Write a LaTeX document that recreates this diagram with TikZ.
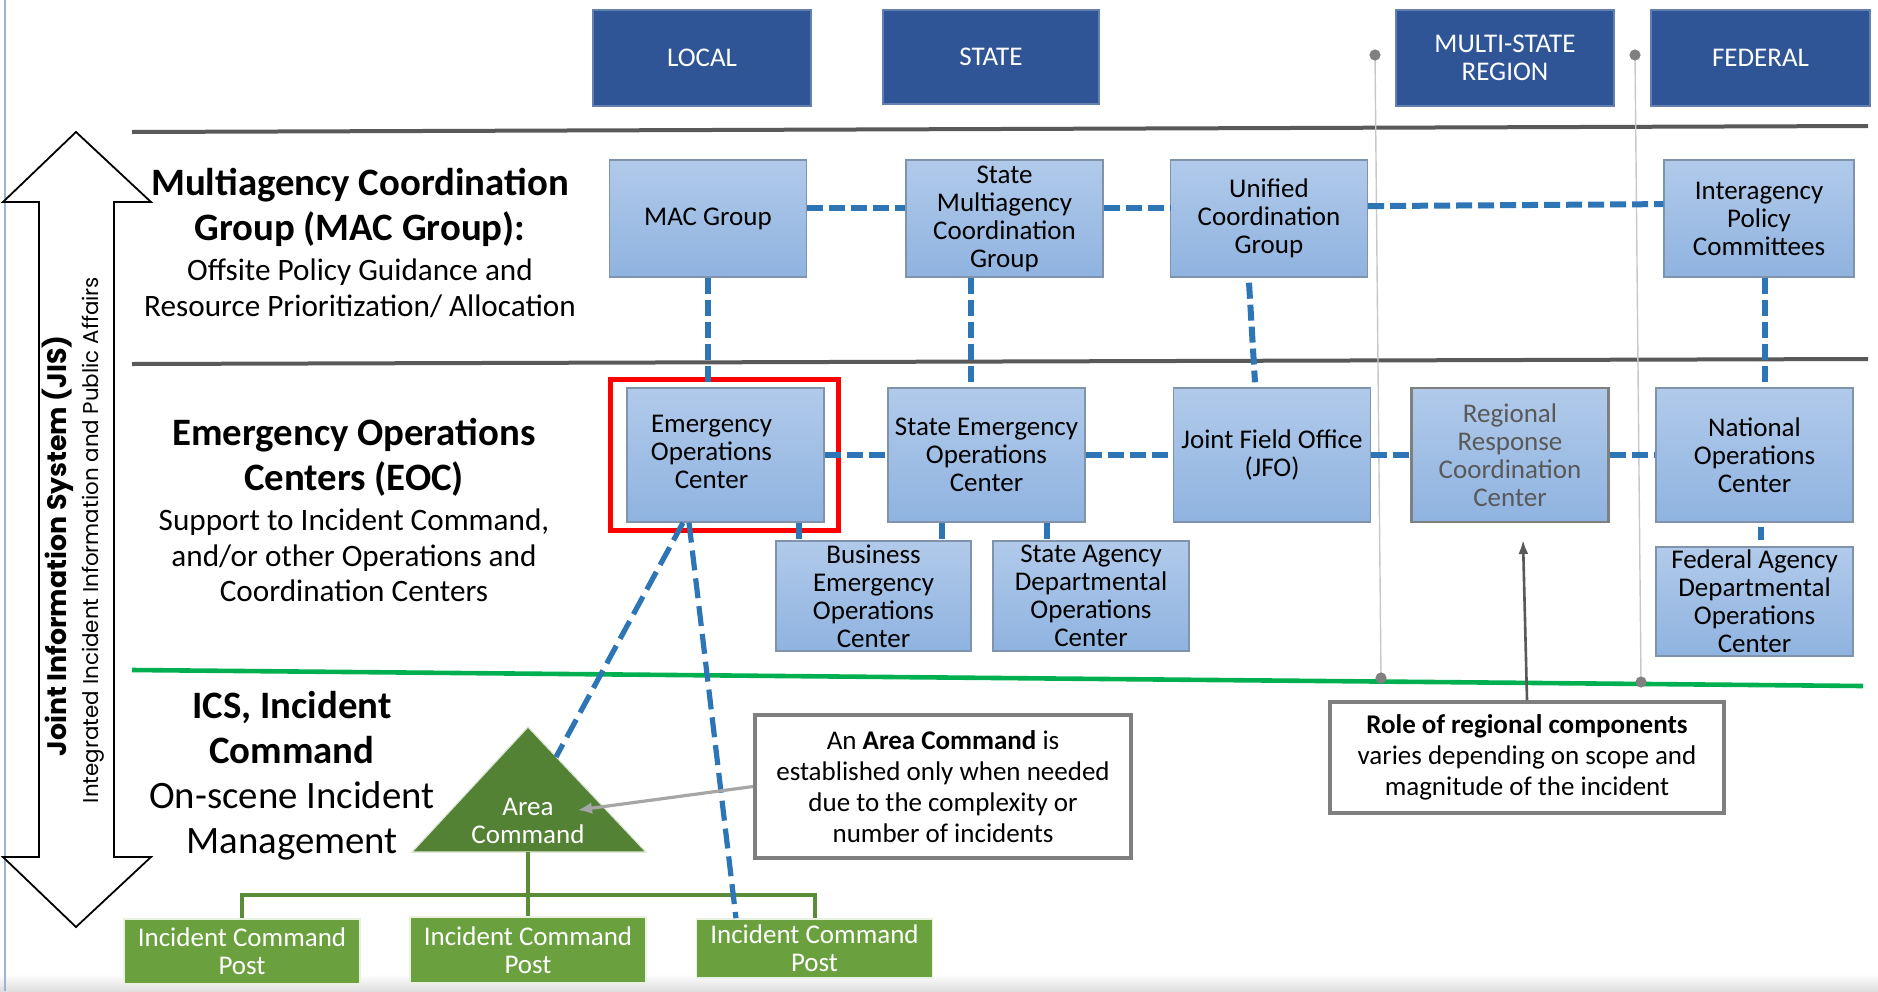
\documentclass[tikz,border=0pt]{standalone}
\usepackage{fontspec}
\setmainfont{Carlito}
\newfontfamily\gothic{Poppins}
\usetikzlibrary{arrows.meta}
\definecolor{hdrblue}{HTML}{2F5597}
\definecolor{boxtop}{HTML}{B1CAEA}
\definecolor{boxbot}{HTML}{8FB3E0}
\definecolor{boxedge}{HTML}{7F93AD}
\definecolor{connblue}{HTML}{2E75B6}
\definecolor{sepgray}{HTML}{595959}
\definecolor{greenline}{HTML}{00B050}
\definecolor{trigreen}{HTML}{548235}
\definecolor{icpgreen}{HTML}{6AA13E}
\definecolor{treegreen}{HTML}{5B8C37}
\definecolor{callgray}{HTML}{7F7F7F}
\definecolor{arrgray}{HTML}{A6A6A6}
\definecolor{vlinegray}{HTML}{C8C8C8}
\definecolor{dotgray}{HTML}{808080}
\definecolor{borderblue}{HTML}{9DB3CF}
\definecolor{rrtext}{HTML}{595959}
\tikzset{
  hdr/.style={fill=hdrblue, draw=hdrblue!75!white, line width=0.6pt, text=white,
    font=\fontsize{13.5}{14}\selectfont, align=center, inner sep=0pt,
    minimum width=109pt, minimum height=48pt},
  lbox/.style={top color=boxtop, bottom color=boxbot, draw=boxedge, line width=0.7pt,
    font=\fontsize{13.5}{14}\selectfont, align=center, inner sep=0pt, minimum width=98.5pt},
  rbox/.style={lbox, draw=callgray, line width=1.4pt, text=rrtext},
  conn/.style={draw=connblue, line width=3pt, dash pattern=on 8pt off 3pt},
  diag/.style={draw=connblue, line width=2.6pt, dash pattern=on 10pt off 4pt},
  sepline/.style={draw=sepgray, line width=2pt},
  hbold/.style={font=\bfseries\fontsize{19.4}{22.5}\selectfont, align=center, inner sep=0pt},
  hbody/.style={font=\fontsize{15.6}{18}\selectfont, align=center, inner sep=0pt},
  icp/.style={fill=icpgreen, draw=white!85!icpgreen, line width=0.8pt, text=white,
    font=\fontsize{13.5}{14}\selectfont, align=center, inner sep=0pt,
    minimum width=118pt, minimum height=32.5pt},
  tree/.style={draw=treegreen, line width=2pt},
  callout/.style={draw=callgray, line width=2pt, fill=white,
    font=\fontsize{13.5}{15.5}\selectfont, align=center, inner sep=0pt},
  vthin/.style={draw=vlinegray, line width=0.7pt},
  dotmark/.style={fill=dotgray}
}
\begin{document}
\begin{tikzpicture}[x=0.5pt,y=-0.5pt]
\useasboundingbox (0,0) rectangle (1878,991);
\fill[white] (0,0) rectangle (1878,991);
\shade[top color=white, bottom color=black!13] (0,974) rectangle (1878,991);
\draw[borderblue, line width=1.2pt] (5,0) -- (5,991);

% separators
\draw[sepline] (132,132) -- (1868,126);
\draw[sepline] (132,364) -- (1868,359);
\draw[greenline, line width=2.3pt] (132,670) -- (1863,686);

% vertical thin region lines
\coordinate (v1t) at (1375,55);
\coordinate (v1b) at (1381,678);
\coordinate (v2t) at (1635,55);
\coordinate (v2b) at (1641,682);
\draw[vthin] (v1t) -- (v1b);
\draw[vthin] (v2t) -- (v2b);
\fill[dotmark] (v1t) circle (2.8pt);
\fill[dotmark] (v1b) circle (2.8pt);
\fill[dotmark] (v2t) circle (2.8pt);
\fill[dotmark] (v2b) circle (2.8pt);

% double arrow
\draw[line width=0.9pt, fill=white] (76,132) -- (151,202) -- (114,202) -- (114,857)
  -- (151,857) -- (76,927) -- (3,857) -- (39,857) -- (39,202) -- (3,202) -- cycle;
\node[rotate=90, inner sep=0pt] (jis) at (58,546)
  {\gothic\bfseries\fontsize{13.4}{15}\selectfont Joint Information System (JIS)};
\node[rotate=90, inner sep=0pt] (jis2) at (93,540)
  {\gothic\fontsize{10.7}{12}\selectfont Integrated Incident Information and Public Affairs};

% header boxes
\node[hdr] (LOCAL) at (702,58) {LOCAL};
\node[hdr, minimum width=108pt, minimum height=47pt] (STATE) at (991,57) {STATE};
\node[hdr] (MSR) at (1505,58) {MULTI-STATE\\REGION};
\node[hdr, minimum width=109.5pt] (FED) at (1760.5,58) {FEDERAL};

% left headings
\node[hbold] (macH) at (360,207.5) {Multiagency Coordination\\Group (MAC Group):};
\node[hbody] (macB) at (360,288) {Offsite Policy Guidance and\\Resource Prioritization/ Allocation};
\node[hbold] (eocH) at (354,457.5) {Emergency Operations\\Centers (EOC)};
\node[hbody, font=\fontsize{15.6}{17.75}\selectfont] (eocB) at (354,555.5)
  {Support to Incident Command,\\and/or other Operations and\\Coordination Centers};
\node[hbold, font=\fontsize{19.4}{22.5}\selectfont] (icsH) at (292,775.5)
  {\textbf{ICS, Incident}\\\textbf{Command}\\On-scene Incident\\Management};

% level 1 boxes
\node[lbox, minimum height=58.5pt] (MAC) at (708,218.5) {MAC Group};
\node[lbox, minimum height=58.5pt] (SMAC) at (1004.5,218.5) {State\\Multiagency\\Coordination\\Group};
\node[lbox, minimum height=58.5pt] (UCG) at (1269,218.5) {Unified\\Coordination\\Group};
\node[lbox, minimum height=58.5pt, minimum width=95pt] (IPC) at (1759,218.5) {Interagency\\Policy\\Committees};

% level 2 boxes
\node[lbox, minimum height=67pt] (EOC) at (725.5,455)
  {\begin{tabular}{@{}c@{\hspace{14pt}}}Emergency\\Operations\\Center\end{tabular}};
\node[lbox, minimum height=67pt] (SEOC) at (986.5,455) {State Emergency\\Operations\\Center};
\node[lbox, minimum height=67pt] (JFO) at (1272,455) {Joint Field Office\\(JFO)};
\node[rbox, minimum height=67pt] (RRCC) at (1510,455) {Regional\\Response\\Coordination\\Center};
\node[lbox, minimum height=67pt] (NOC) at (1754.5,455) {National\\Operations\\Center};

% sub boxes
\node[lbox, minimum height=55pt, minimum width=97.5pt] (BEOC) at (873.5,596) {Business\\Emergency\\Operations\\Center};
\node[lbox, minimum height=55pt, minimum width=98pt] (SADOC) at (1091,596) {State Agency\\Departmental\\Operations\\Center};
\node[lbox, minimum height=54.5pt] (FADOC) at (1754.5,601.5) {Federal Agency\\Departmental\\Operations\\Center};

% red highlight
\draw[red, line width=2.5pt] (610.5,379.5) rectangle (838.5,530.5);

% connectors level 1
\draw[conn] ([yshift=5.25pt]MAC.east) -- ([yshift=5.25pt]SMAC.west);
\draw[conn] ([yshift=5.5pt]SMAC.east) -- ([yshift=5.5pt]UCG.west);
\draw[conn] ([yshift=6.2pt]UCG.east) -- ([yshift=7.2pt]IPC.west);
% vertical connectors
\draw[conn] (MAC.south) -- (MAC.south |- EOC.north);
\draw[conn] ([xshift=-16.75pt]SMAC.south) -- ([xshift=-16.75pt]SMAC.south |- SEOC.north);
\draw[conn] ([xshift=-10pt,yshift=-2.5pt]UCG.south) -- ([xshift=-8.5pt,yshift=2.5pt]JFO.north);
\draw[conn] ([xshift=3pt]IPC.south) -- ([xshift=3pt]IPC.south |- NOC.north);
% level 2 horizontals
\draw[conn] (EOC.east) -- (SEOC.west);
\draw[conn] (SEOC.east) -- (JFO.west);
\draw[conn] (JFO.east) -- (RRCC.west);
\draw[conn] (RRCC.east) -- (NOC.west);
% to sub boxes
\draw[conn] ([xshift=36.75pt]EOC.south) -- ([xshift=36.75pt]EOC.south |- BEOC.north);
\draw[conn] ([xshift=-22.25pt]SEOC.south) -- ([xshift=-22.25pt]SEOC.south |- BEOC.north);
\draw[conn] ([xshift=30.25pt]SEOC.south) -- ([xshift=30.25pt]SEOC.south |- SADOC.north);
\draw[connblue, line width=3pt, shorten <=2pt, shorten >=3pt] ([xshift=3.25pt]NOC.south) -- ([xshift=3.25pt]NOC.south |- FADOC.north);

% Area command triangle
\coordinate (apex) at (528,727);
\coordinate (bl) at (412,852);
\coordinate (br) at (646,852);
\coordinate (tb) at (528,852);
\coordinate (acR) at (556,757);
\coordinate (treeY) at (528,895);
\fill[trigreen] (apex) -- (br) -- (bl) -- cycle;
\draw[white!80!trigreen, line width=0.6pt] (apex) -- (br) -- (bl) -- cycle;
\node[text=white, font=\fontsize{13.5}{14}\selectfont, align=center, inner sep=0pt] (ACtext) at (528,821) {Area\\Command};

% ICPs
\node[icp] (ICP1) at (242,951.5) {Incident Command\\Post};
\node[icp, minimum height=33pt] (ICP2) at (528,950) {Incident Command\\Post};
\node[icp, minimum height=29.5pt] (ICP3) at (814.5,948.5) {Incident Command\\Post};

% tree
\draw[tree] (tb) -- (ICP2.north);
\draw[tree] (ICP1.north) |- (treeY) -| (ICP3.north);

% EOC diagonals
\draw[diag] ([xshift=-21.25pt]EOC.south) -- (acR);
\draw[diag] ([xshift=-18.25pt]EOC.south) -- ([xshift=-39.25pt]ICP3.north);

% callouts
\node[callout, minimum width=188pt, minimum height=71.5pt] (AC) at (943,786.5)
  {An \textbf{Area Command} is\\established only when needed\\due to the complexity or\\number of incidents};
\node[callout, minimum width=197pt, minimum height=55.5pt] (RC) at (1527,757.5)
  {\textbf{Role of regional components}\\varies depending on scope and\\magnitude of the incident};

\coordinate (acTip) at (578,810);
\draw[arrgray, line width=1.6pt, -{Latex[length=7pt,width=6pt]}] (AC.west) -- (acTip);
\coordinate (rrTip) at (1523,540);
\draw[sepgray, line width=1.3pt, -{Latex[length=7pt,width=5pt]}] (RC.north) -- (rrTip);
\end{tikzpicture}
\end{document}
